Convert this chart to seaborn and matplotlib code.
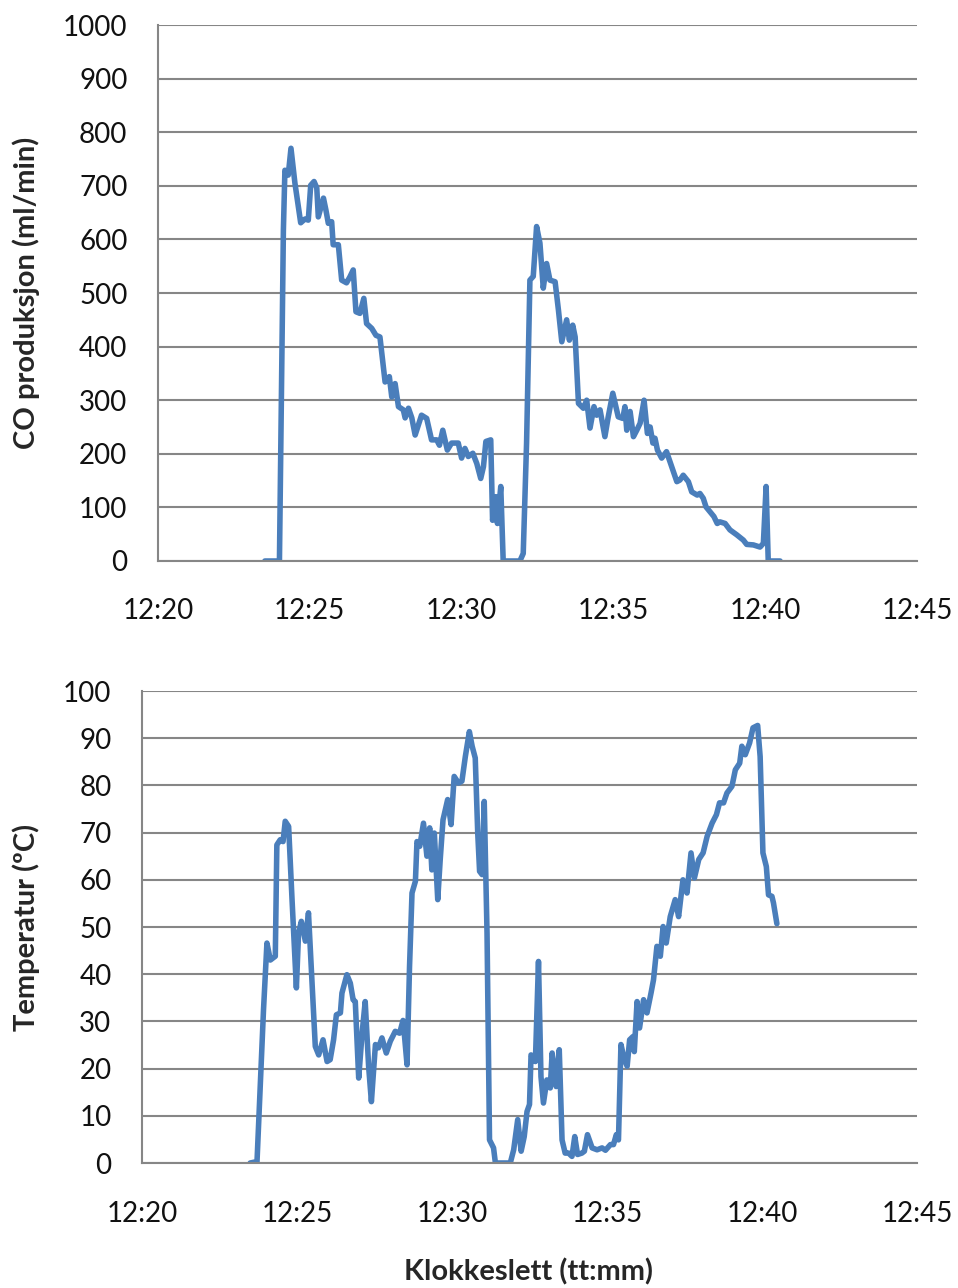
import numpy as np
import pandas as pd
import matplotlib
matplotlib.use('Agg')
import matplotlib.pyplot as plt
import seaborn as sns

# minutter etter 12:20
co_tid = [3.52, 4.00, 4.13, 4.18, 4.29, 4.38, 4.51, 4.70, 4.84, 4.95, 5.03, 5.14, 5.23, 5.28,
          5.45, 5.53, 5.61, 5.72, 5.77, 5.94, 6.05, 6.21, 6.32, 6.43, 6.52, 6.65, 6.78, 6.87,
          7.04, 7.18, 7.31, 7.48, 7.62, 7.70, 7.81, 7.92, 8.08, 8.14, 8.25, 8.36, 8.47, 8.68,
          8.85, 9.01, 9.18, 9.27, 9.38, 9.53, 9.67, 9.89, 10.00, 10.11, 10.22, 10.37, 10.50,
          10.63, 10.72, 10.80, 10.96, 11.02, 11.13, 11.18, 11.29, 11.37, 11.92, 12.03, 12.14,
          12.25, 12.36, 12.47, 12.58, 12.69, 12.80, 12.91, 13.08, 13.19, 13.30, 13.46, 13.55,
          13.66, 13.74, 13.85, 14.01, 14.12, 14.23, 14.36, 14.45, 14.56, 14.72, 14.83, 14.98,
          15.16, 15.31, 15.38, 15.44, 15.55, 15.66, 15.77, 15.88, 16.01, 16.12, 16.21, 16.30,
          16.37, 16.45, 16.59, 16.75, 16.92, 17.09, 17.19, 17.30, 17.47, 17.58, 17.76, 17.85,
          17.96, 18.05, 18.18, 18.31, 18.42, 18.51, 18.68, 18.84, 19.06, 19.28, 19.39, 19.61,
          19.83, 19.94, 20.03, 20.10, 20.49]
co_verdi = [0, 0, 617, 729, 720, 770, 705, 631, 638, 636, 701, 708, 696, 642,
            677, 655, 630, 633, 590, 590, 524, 519, 530, 543, 465, 462, 490, 443,
            434, 421, 418, 334, 344, 306, 331, 288, 282, 267, 285, 267, 235, 272,
            266, 226, 226, 216, 244, 207, 220, 220, 192, 210, 195, 201, 182,
            154, 176, 223, 226, 76, 120, 70, 139, 0, 0, 14, 220,
            524, 531, 624, 593, 509, 555, 524, 521, 468, 409, 450, 412,
            440, 418, 294, 285, 300, 248, 288, 272, 282, 232, 269, 313,
            269, 266, 288, 244, 279, 232, 244, 257, 300, 238, 250, 220,
            229, 207, 192, 204, 176, 148, 151, 160, 148, 129, 123, 126,
            117, 101, 92, 83, 70, 73, 70, 58, 49, 39, 31, 30,
            26, 33, 139, 0, 0]

temp_tid = [3.49, 3.71, 3.82, 3.92, 4.03, 4.14, 4.30, 4.35, 4.46, 4.55, 4.62, 4.73, 4.84, 4.98,
            5.05, 5.14, 5.27, 5.37, 5.48, 5.59, 5.70, 5.84, 5.97, 6.07, 6.18, 6.27, 6.40, 6.45,
            6.61, 6.72, 6.81, 6.88, 6.99, 7.10, 7.20, 7.31, 7.40, 7.53, 7.63, 7.74, 7.88, 8.01,
            8.17, 8.31, 8.42, 8.46, 8.55, 8.63, 8.71, 8.82, 8.87, 8.96, 9.08, 9.19, 9.28, 9.35,
            9.43, 9.54, 9.62, 9.71, 9.86, 9.97, 10.07, 10.21, 10.32, 10.43, 10.56, 10.65, 10.75,
            10.83, 10.89, 10.97, 11.04, 11.13, 11.21, 11.34, 11.40, 11.88, 11.99, 12.12, 12.23,
            12.33, 12.42, 12.50, 12.55, 12.69, 12.79, 12.87, 12.95, 13.06, 13.17, 13.23, 13.30,
            13.36, 13.46, 13.55, 13.65, 13.76, 13.87, 13.96, 14.05, 14.19, 14.27, 14.37, 14.52,
            14.68, 14.84, 14.95, 15.11, 15.21, 15.30, 15.37, 15.45, 15.56, 15.65, 15.73, 15.84,
            15.88, 15.97, 16.05, 16.18, 16.29, 16.42, 16.50, 16.61, 16.72, 16.81, 16.91, 17.04,
            17.20, 17.31, 17.45, 17.58, 17.71, 17.82, 17.96, 18.10, 18.23, 18.39, 18.53, 18.63,
            18.76, 18.87, 19.03, 19.14, 19.28, 19.35, 19.46, 19.60, 19.71, 19.86, 19.94, 20.03,
            20.14, 20.21, 20.32, 20.37, 20.48]
temp_verdi = [0, 0.3, 17, 32.5, 46.6, 43, 43.8, 67.4, 68.5, 68.1, 72.4, 71.3, 55.8, 37.1,
              48.7, 51.2, 47, 53, 38.8, 24.7, 22.9, 26.1, 21.5, 21.9, 26.1, 31.4, 31.8, 36,
              39.9, 38.1, 34.6, 34.2, 18, 27.5, 34.2, 20.5, 13, 25.1, 24.4, 26.5, 23.3, 25.8,
              27.9, 27.5, 30.2, 27.5, 20.8, 41.6, 57.2, 59.7, 68.1, 67.1, 72, 65, 71, 62.1,
              69.9, 55.8, 64.3, 72.7, 77, 71.7, 81.9, 80.5, 80.9, 86.1, 91.4, 88.3, 85.8,
              69.9, 61.8, 61.1, 76.6, 48.7, 4.9, 3.2, 0, 0, 2.8, 9.2, 2.5,
              5.6, 10.9, 12.4, 22.9, 21.5, 42.7, 18.3, 12.7, 17.6, 15.9, 23.3, 19.8,
              16.2, 24, 4.9, 2.1, 2.1, 1.4, 5.6, 1.8, 2.1, 2.5, 6.0, 3.2,
              2.8, 3.2, 2.7, 3.9, 3.9, 6.0, 4.9, 25.1, 21.9, 20.5, 26.1, 26.8,
              23.6, 34.2, 28.6, 34.6, 31.8, 36.0, 38.8, 45.9, 43.8, 50.1, 46.6, 52.2,
              55.8, 52.2, 60.0, 57.2, 65.7, 60.4, 64.3, 65.7, 69.2, 72.0, 73.8, 76.3,
              76.3, 78.4, 79.8, 83.3, 84.7, 88.3, 86.5, 89.0, 92.2, 92.7, 86.1, 65.7,
              62.8, 56.8, 56.5, 55.1, 50.7]

tick_pos = [0, 5, 10, 15, 20, 25]
tick_tekst = ['12:20', '12:25', '12:30', '12:35', '12:40', '12:45']

sns.set_style('white')
plt.rcParams['font.family'] = ['Lato', 'DejaVu Sans']

linjefarge = '#4a7ebb'
gra = '#868686'

fig = plt.figure(figsize=(9.58, 12.88), dpi=100)
ax1 = fig.add_axes([158 / 958, 1 - 561 / 1288, 759 / 958, 536 / 1288])
ax2 = fig.add_axes([142 / 958, 1 - 1163 / 1288, 775 / 958, 472 / 1288])

df_co = pd.DataFrame({'tid': co_tid, 'co': co_verdi})
df_temp = pd.DataFrame({'tid': temp_tid, 'temp': temp_verdi})

sns.lineplot(data=df_co, x='tid', y='co', ax=ax1, color=linjefarge, lw=4,
             sort=False, estimator=None, solid_joinstyle='round', solid_capstyle='round')
sns.lineplot(data=df_temp, x='tid', y='temp', ax=ax2, color=linjefarge, lw=4,
             sort=False, estimator=None, solid_joinstyle='round', solid_capstyle='round')


def stil(ax, ymax, steg):
    ax.set_xlim(0, 25)
    ax.set_ylim(0, ymax)
    ax.set_xticks(tick_pos)
    ax.set_xticklabels(tick_tekst)
    ax.set_yticks(np.arange(0, ymax + 1, steg))
    ax.yaxis.grid(True, color=gra, lw=1.5)
    ax.xaxis.grid(False)
    ax.set_axisbelow(True)
    for s in ['top', 'right']:
        ax.spines[s].set_visible(False)
    for s in ['left', 'bottom']:
        ax.spines[s].set_color(gra)
        ax.spines[s].set_linewidth(1.5)
    ax.tick_params(axis='x', direction='in', length=8, width=1.5, color=gra,
                   pad=27, labelsize=20, labelcolor='#111111')
    ax.tick_params(axis='y', length=0, pad=22, labelsize=20, labelcolor='#111111')


stil(ax1, 1000, 100)
stil(ax2, 100, 10)

ax1.set_xlabel('')
ax1.set_ylabel('CO produksjon (ml/min)', fontsize=21, fontweight='bold')
ax1.yaxis.set_label_coords((40 - 158) / 759, 0.5)

ax2.set_ylabel('Temperatur (ºC)', fontsize=21, fontweight='bold')
ax2.yaxis.set_label_coords((40 - 142) / 775, 0.5)
ax2.set_xlabel('Klokkeslett (tt:mm)', fontsize=21, fontweight='bold')
ax2.xaxis.set_label_coords((529 - 142) / 775, (1163 - 1258) / 472)

fig.savefig('out.png', dpi=100)
